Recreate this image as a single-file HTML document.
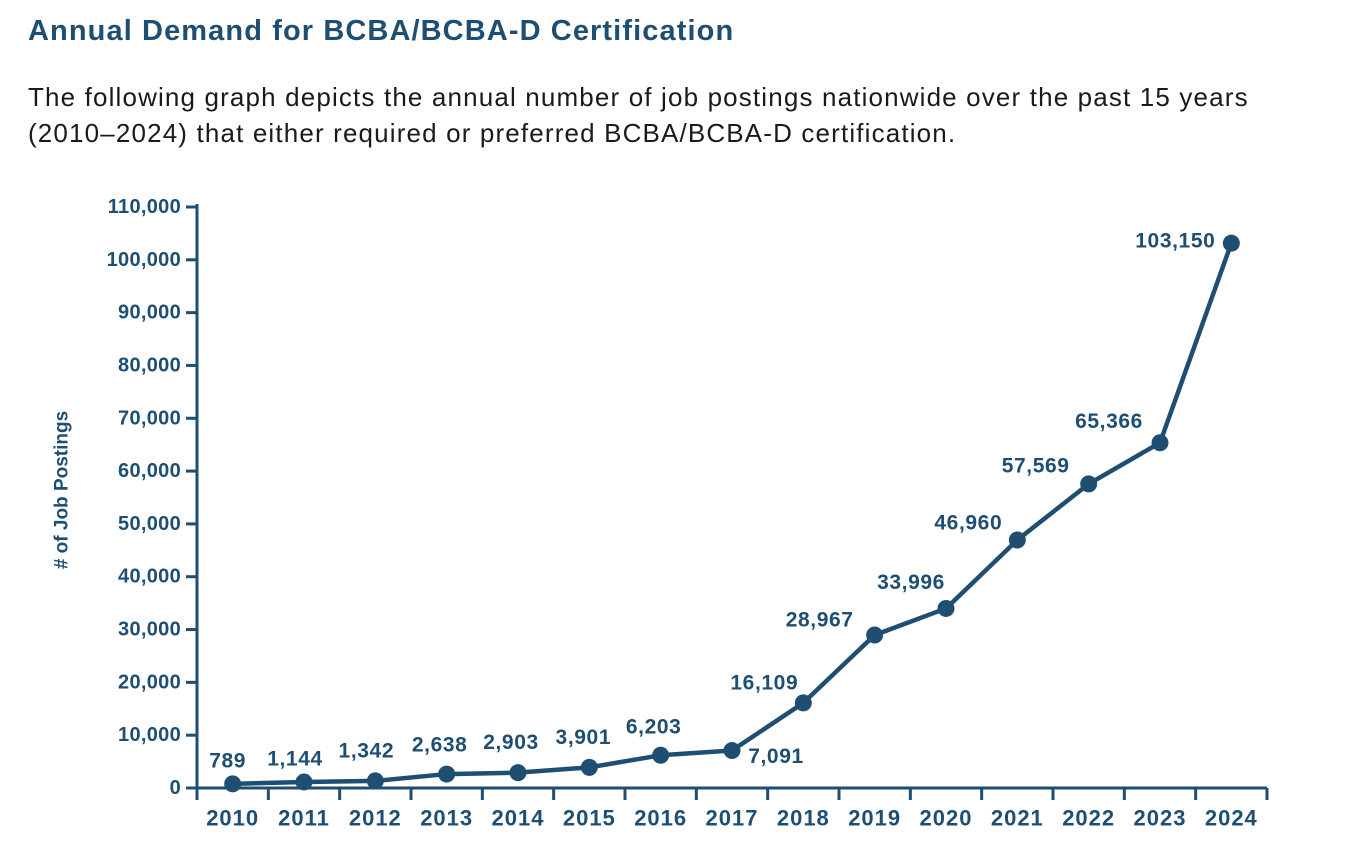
<!DOCTYPE html>
<html><head><meta charset="utf-8"><style>
body{margin:0;width:1348px;height:850px;background:#fff;font-family:"Liberation Sans",sans-serif;overflow:hidden;position:relative}
h1{position:absolute;left:28px;top:15px;margin:0;font-size:29px;font-weight:bold;color:#1f4e73;letter-spacing:1.1px}
p{position:absolute;left:28px;top:79px;margin:0;font-size:26px;line-height:36px;color:#1a1a1a;width:1320px;letter-spacing:1.15px}
svg{position:absolute;left:0;top:0}
</style></head><body>
<h1>Annual Demand for BCBA/BCBA-D Certification</h1>
<p>The following graph depicts the annual number of job postings nationwide over the past 15 years<br>(2010–2024) that either required or preferred BCBA/BCBA-D certification.</p>
<svg id="chart" width="1348" height="850"></svg>
<script>
const years=["2010","2011","2012","2013","2014","2015","2016","2017","2018","2019","2020","2021","2022","2023","2024"];
const postings=[789,1144,1342,2638,2903,3901,6203,7091,16109,28967,33996,46960,57569,65366,103150];
const valueLabels=["789","1,144","1,342","2,638","2,903","3,901","6,203","7,091","16,109","28,967","33,996","46,960","57,569","65,366","103,150"];
const yTicks=[0,10000,20000,30000,40000,50000,60000,70000,80000,90000,100000,110000];
const yTickLabels=["0","10,000","20,000","30,000","40,000","50,000","60,000","70,000","80,000","90,000","100,000","110,000"];
const labelDx=[-5,-9,-9,-7,-7,-6,-7,44,-39,-55,-35,-49,-53,-51,-56];
const labelDy=[-23,-23,-30,-29,-30,-30,-28,6,-20,-15,-26,-17,-18,-21,-2];
const C="#1f4e73",NS="http://www.w3.org/2000/svg";
const svg=document.getElementById('chart');
const x0=197,x1=1267,y0=788,yMax=110000,yTop=207;
const bw=(x1-x0)/years.length;
const xs=i=>x0+bw*(i+0.5);
const ys=v=>y0-(v/yMax)*(y0-yTop);
function mk(t,a,txt){const e=document.createElementNS(NS,t);for(const k in a)e.setAttribute(k,a[k]);if(txt!==undefined)e.textContent=txt;svg.appendChild(e);return e;}
let e;
e=mk('line',{x1:x0,y1:y0,x2:x1,y2:y0,stroke:C,'stroke-width':3});


e=mk('line',{x1:x0,y1:y0+1,x2:x0,y2:204,stroke:C,'stroke-width':3});


yTicks.forEach((v,i)=>{
  e=mk('line',{x1:x0-11,y1:ys(v),x2:x0,y2:ys(v),stroke:C,'stroke-width':3});
  
  
  e=mk('text',{x:x0-16,y:ys(v),'text-anchor':'end','dominant-baseline':'central','font-size':20,'font-weight':'bold',fill:C,'letter-spacing':0.3},yTickLabels[i]);
  
  
});
for(let i=0;i<=years.length;i++){
  e=mk('line',{x1:x0+bw*i,y1:y0,x2:x0+bw*i,y2:y0+12,stroke:C,'stroke-width':3});
  
  
}
years.forEach((y,i)=>{
  e=mk('text',{x:xs(i),y:818,'text-anchor':'middle','dominant-baseline':'central','font-size':22,'font-weight':'bold',fill:C,'letter-spacing':1},y);
  
  
});
e=mk('text',{x:62,y:490,'text-anchor':'middle','dominant-baseline':'central','font-size':19,'font-weight':'bold',fill:C,transform:'rotate(-90 62 490)'},'# of Job Postings');


e=mk('polyline',{points:postings.map((v,i)=>xs(i)+','+ys(v)).join(' '),fill:'none',stroke:C,'stroke-width':4.5,'stroke-linejoin':'round'});


postings.forEach((v,i)=>{
  e=mk('circle',{cx:xs(i),cy:ys(v),r:8.5,fill:C});
  
  
  e=mk('text',{x:xs(i)+labelDx[i],y:ys(v)+labelDy[i],'text-anchor':'middle','dominant-baseline':'central','font-size':21,'font-weight':'bold',fill:C,'letter-spacing':0.6},valueLabels[i]);
  
  
});
</script>
</body></html>
